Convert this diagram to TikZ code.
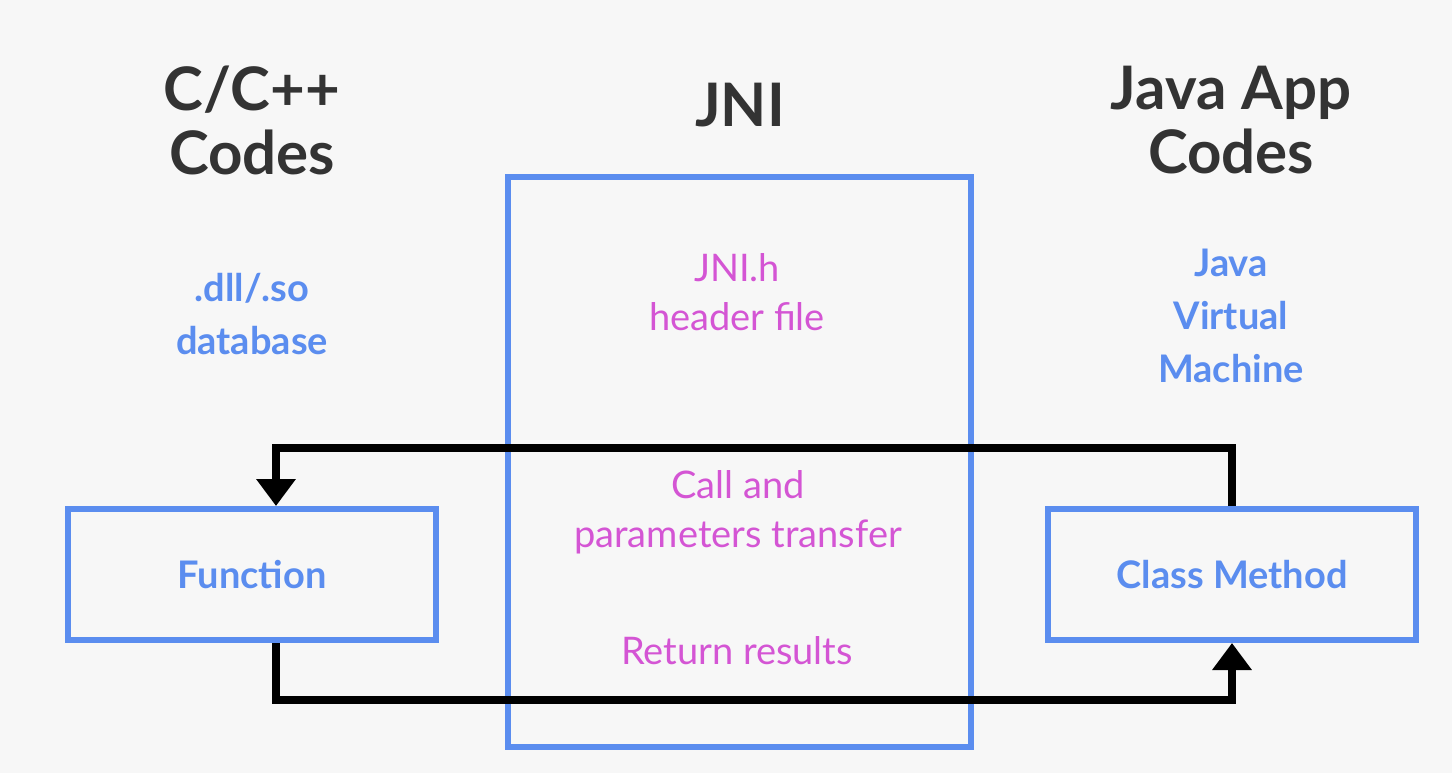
\documentclass[tikz,border=0pt]{standalone}
\usepackage{fontspec}
\setmainfont{Lato}
\usetikzlibrary{arrows.meta}
\definecolor{bg}{HTML}{F7F7F7}
\definecolor{jblue}{HTML}{5B8DEF}
\definecolor{jpink}{HTML}{D455D4}
\definecolor{jtitle}{HTML}{333333}
\begin{document}
\begin{tikzpicture}[x=1pt,y=-1pt,
  title/.style={font=\fontsize{60}{64}\selectfont\bfseries, text=jtitle, align=center, inner sep=0pt},
  bluetext/.style={font=\fontsize{38}{53}\selectfont\bfseries, text=jblue, align=center, inner sep=0pt},
  pinktext/.style={font=\fontsize{38}{49}\selectfont, text=jpink, align=center, inner sep=0pt},
  box/.style={draw=jblue, line width=6pt, inner sep=0pt},
  conn/.style={line width=8pt, draw=black, -{Triangle[width=38pt,length=27pt]}}]
\fill[bg] (0,0) rectangle (1452,773);
\useasboundingbox (0,0) rectangle (1452,773);

\node[box, minimum width=463pt, minimum height=570pt] (jni) at (739.5,462) {};
\node[box, bluetext, minimum width=368pt, minimum height=131pt] (fn) at (252,574.5) {Function};
\node[box, bluetext, minimum width=368pt, minimum height=131pt] (cm) at (1232,574.5) {Class Method};

\node[title] (ctitle) at (252,120) {C/C++\\Codes};
\node[title] (jnititle) at (740,105) {JNI};
\node[title] (jtitle) at (1231,120) {Java App\\Codes};

\node[bluetext] (dll) at (252,314) {.dll/.so\\database};
\node[bluetext] (jvm) at (1231,316) {Java\\Virtual\\Machine};

\node[pinktext] (hdr) at (737,292) {JNI.h\\header file};
\node[pinktext] (call) at (738,512) {Call and\\parameters transfer};
\node[pinktext] (ret) at (737,651) {Return results};

\coordinate (top) at (0,448);
\coordinate (bot) at (0,700);
\coordinate (fa) at ([xshift=24pt]fn.north);
\coordinate (fb) at ([xshift=24pt]fn.south);
\draw[conn] (cm.north) |- (top -| fa) -- (fa);
\draw[conn] (fb) |- (bot -| cm.south) -- (cm.south);
\end{tikzpicture}
\end{document}
